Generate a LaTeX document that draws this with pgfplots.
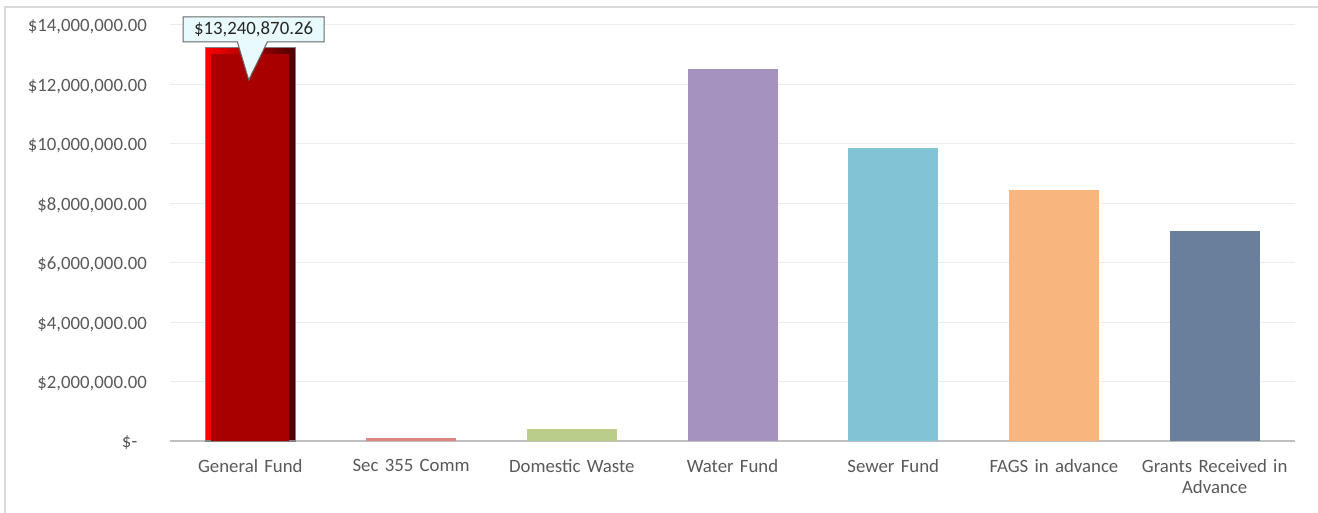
\documentclass[border=0pt]{standalone}
\usepackage{pgfplots}
\pgfplotsset{compat=1.18}
\usepackage{fontspec}
\setmainfont{Carlito}
\usetikzlibrary{shapes.callouts}
\definecolor{txt}{HTML}{595959}
\definecolor{gridc}{HTML}{EDEDED}
\definecolor{axisc}{HTML}{BFBFBF}
\definecolor{framec}{HTML}{D9D9D9}
\definecolor{genred}{HTML}{A80000}
\definecolor{sec}{HTML}{DB8583}
\definecolor{dom}{HTML}{BBCD8B}
\definecolor{water}{HTML}{A592BF}
\definecolor{sewer}{HTML}{82C4D6}
\definecolor{fags}{HTML}{F8B57D}
\definecolor{grants}{HTML}{6A7F9C}
\definecolor{callbg}{HTML}{E9FAFD}
\begin{document}
\begin{tikzpicture}[x=1bp,y=1bp]
\useasboundingbox (0,0) rectangle (1318,513);
\draw[framec, line width=1.5bp] (5,0) -- (5,506) -- (1318,506);
\begin{axis}[
    at={(170bp,72bp)}, anchor=south west,
    scale only axis,
    width=1125bp, height=416bp,
    xmin=-0.5, xmax=6.5,
    ymin=0, ymax=14000000,
    scaled y ticks=false,
    ybar, bar shift=0pt, bar width=90bp,
    axis lines*=left,
    x axis line style={draw=axisc, line width=1.8bp},
    y axis line style={draw=none},
    major tick length=0pt,
    ymajorgrids,
    grid style={gridc, line width=1bp},
    xtick={0,1,2,3,4,5,6},
    xticklabels={General Fund, Sec 355 Comm, Domestic Waste, Water Fund, Sewer Fund, FAGS in advance, {Grants Received in\\Advance}},
    ytick={0,2000000,4000000,6000000,8000000,10000000,12000000,14000000},
    yticklabels={{\$-\hphantom{0}},{\$2,000,000.00},{\$4,000,000.00},{\$6,000,000.00},{\$8,000,000.00},{\$10,000,000.00},{\$12,000,000.00},{\$14,000,000.00}},
    tick label style={font=\fontsize{18.8bp}{21bp}\selectfont, text=txt},
    yticklabel style={anchor=east, inner sep=0pt, xshift=-23bp, yshift=-2bp},
    xticklabel style={anchor=north, align=center, text width=170bp, inner sep=0pt, yshift=-18bp},
    clip=false,
]
% General Fund: bevelled bar (outer rim, then flat face)
\addplot[draw=gray, line width=1.5bp, left color=red, middle color=genred, right color=genred!45!black] coordinates {(0,13240870.26)};
\addplot[draw=none, fill=genred, bar width=78bp] coordinates {(0,13020000)};
\addplot[draw=none, fill=sec] coordinates {(1,100000)};
\addplot[draw=none, fill=dom] coordinates {(2,400000)};
\addplot[draw=none, fill=water] coordinates {(3,12520000)};
\addplot[draw=none, fill=sewer] coordinates {(4,9860000)};
\addplot[draw=none, fill=fags] coordinates {(5,8450000)};
\addplot[draw=none, fill=grants] coordinates {(6,7070000)};
\node[rectangle callout, draw=gray!80!black, fill=callbg, line width=1bp,
      callout absolute pointer={(axis cs:-0.01,12150000)},
      callout pointer width=30bp,
      minimum width=141bp, minimum height=25bp, inner sep=0pt,
      font=\fontsize{18.8bp}{21bp}\selectfont, text=black!85]
      at (axis cs:0.02,13850000) {\$13,240,870.26};
\end{axis}
\end{tikzpicture}
\end{document}
